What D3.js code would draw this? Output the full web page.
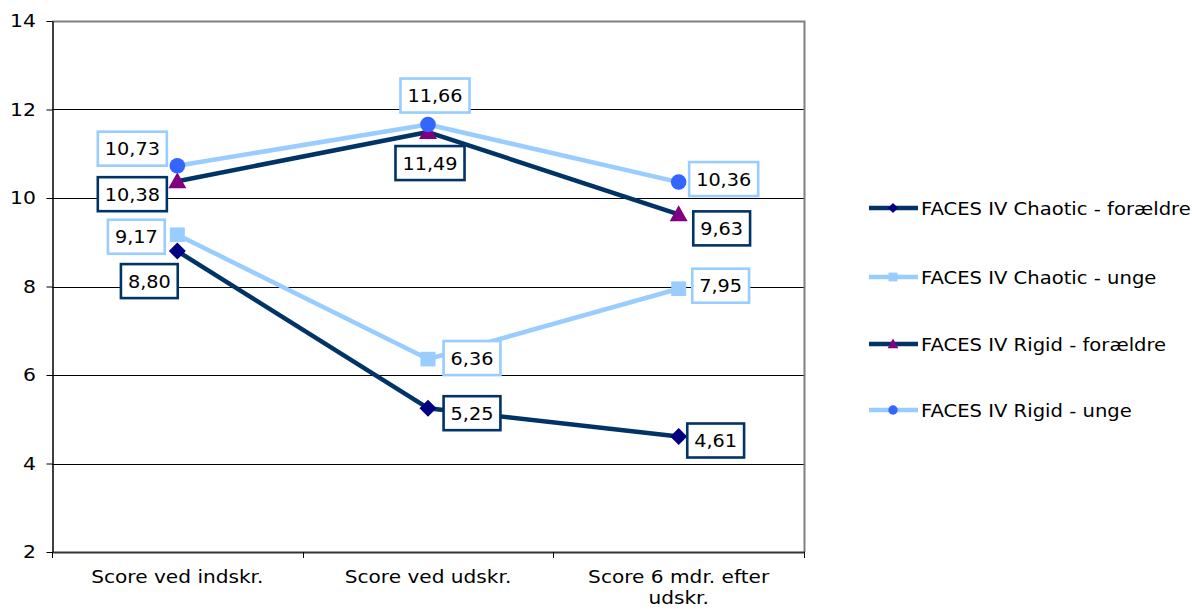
<!DOCTYPE html>
<html>
<head>
<meta charset="utf-8">
<script src="https://cdn.jsdelivr.net/npm/d3@7"></script>
<style>
  html, body { margin: 0; padding: 0; background: #fff; }
  svg { display: block; font-family: "DejaVu Sans", Verdana, sans-serif; }
</style>
</head>
<body>
<svg id="chart" width="1192" height="609"></svg>
<script>
// ---- data ----
const categories = ["Score ved indskr.", "Score ved udskr.", "Score 6 mdr. efter udskr."];
const seriesNames = [
  "FACES IV Chaotic - forældre",
  "FACES IV Chaotic - unge",
  "FACES IV Rigid - forældre",
  "FACES IV Rigid - unge"
];
const chaoticForaeldre = [8.80, 5.25, 4.61];
const chaoticUnge = [9.17, 6.36, 7.95];
const rigidForaeldre = [10.38, 11.49, 9.63];
const rigidUnge = [10.73, 11.66, 10.36];
const yTicks = [2, 4, 6, 8, 10, 12, 14];

// ---- styling / layout ----
const navy = "#003366", lightBlue = "#99CCFF";
const seriesStyle = [
  { line: navy,      marker: "diamond",  fill: "#000080" },
  { line: lightBlue, marker: "square",   fill: "#99CCFF" },
  { line: navy,      marker: "triangle", fill: "#800080" },
  { line: lightBlue, marker: "circle",   fill: "#3366FF" }
];
// data label box centre, relative to its point (px)
const labelNudge = [
  [[-28, 30], [44, 5], [37, 4]],
  [[-41, 2], [44, -1], [42, -3]],
  [[-45, 13], [2, 31], [43, 14]],
  [[-45, -17], [7, -29], [45, -3]]
];
const seriesValues = [chaoticForaeldre, chaoticUnge, rigidForaeldre, rigidUnge];

const SX = 1.1;            // horizontal text stretch
const fmt = v => d3.format(".2f")(v).replace(".", ",");

const svg = d3.select("#chart");
const plot = { left: 52, right: 804, top: 21, bottom: 552 };

const x = d3.scalePoint().domain(categories).range([plot.left, plot.right]).padding(0.5);
const xBand = d3.scaleBand().domain(categories).range([plot.left, plot.right]);
const y = d3.scaleLinear().domain([2, 14]).range([plot.bottom, plot.top]);

// gridlines
svg.append("g").selectAll("line")
  .data(yTicks.filter(t => t > 2 && t < 14))
  .join("line")
  .attr("x1", plot.left).attr("x2", plot.right)
  .attr("y1", d => Math.round(y(d)) + 0.5).attr("y2", d => Math.round(y(d)) + 0.5)
  .attr("stroke", "#000").attr("stroke-width", 1);

// plot-area frame (top/right)
svg.append("path")
  .attr("d", `M${plot.left},${plot.top + 0.5}H${plot.right + 0.5}V${plot.bottom}`)
  .attr("fill", "none").attr("stroke", "#808080").attr("stroke-width", 2);

// y axis
const yAxis = svg.append("g")
  .attr("transform", `translate(${plot.left + 0.5},0)`)
  .call(d3.axisLeft(y).tickValues(yTicks).tickSize(6).tickSizeOuter(0).tickPadding(9)
        .tickFormat(d3.format("d")));
yAxis.select(".domain").attr("stroke", "#000").attr("stroke-width", 1.5);
yAxis.selectAll(".tick line").attr("stroke", "#000");
yAxis.selectAll(".tick text")
  .attr("font-size", 18.5).attr("fill", "#000")
  .attr("font-family", "DejaVu Sans, Verdana, sans-serif")
  .attr("transform", `scale(${SX},1)`);

// x axis line + boundary ticks
svg.append("line")
  .attr("x1", plot.left).attr("x2", plot.right + 1)
  .attr("y1", plot.bottom + 0.5).attr("y2", plot.bottom + 0.5)
  .attr("stroke", "#333").attr("stroke-width", 2);
const edges = categories.map(c => xBand(c)).concat([xBand.range()[1]]);
svg.append("g").selectAll("line").data(edges).join("line")
  .attr("x1", d => Math.round(d) + 0.5).attr("x2", d => Math.round(d) + 0.5)
  .attr("y1", plot.bottom).attr("y2", plot.bottom + 6)
  .attr("stroke", "#000");

// category labels (wrapped)
function stretchedText(g, tx, ty, str, size, anchor, sx) {
  return g.append("text")
    .attr("transform", `translate(${tx},${ty}) scale(${sx || SX},1)`)
    .attr("text-anchor", anchor)
    .attr("font-size", size)
    .attr("fill", "#000")
    .text(str);
}
const catSX = 1.15;
const xLabels = svg.append("g");
categories.forEach(c => {
  const t = stretchedText(xLabels, x(c), 583, "", 17.5, "middle", catSX);
  const words = c.split(" ");
  let line = [], lines = [];
  const probe = t.append("tspan");
  words.forEach(w => {
    line.push(w);
    probe.text(line.join(" "));
    if (probe.node().getComputedTextLength() * catSX > 230 && line.length > 1) {
      line.pop();
      lines.push(line.join(" "));
      line = [w];
    }
  });
  lines.push(line.join(" "));
  probe.remove();
  lines.forEach((l, i) => {
    t.append("tspan").attr("x", 0).attr("dy", i === 0 ? 0 : 21).text(l);
  });
});

// marker shapes
function markerPath(type, s) {
  switch (type) {
    case "diamond": return `M0,${-8.5*s}L${8.5*s},0L0,${8.5*s}L${-8.5*s},0Z`;
    case "square":  return `M${-7.5*s},${-7.3*s}h${15*s}v${14.6*s}h${-15*s}Z`;
    case "triangle":return `M0,${-9*s}L${9*s},${7*s}L${-9*s},${7*s}Z`;
    default: return null;
  }
}
function drawMarker(g, type, fill, cx, cy, s) {
  if (type === "circle") {
    g.append("circle").attr("cx", cx).attr("cy", cy).attr("r", 7.8 * s).attr("fill", fill);
  } else {
    g.append("path").attr("transform", `translate(${cx},${cy})`)
      .attr("d", markerPath(type, s)).attr("fill", fill);
  }
}

// series lines and markers
const lineGen = d3.line().x((d, i) => x(categories[i])).y(d => y(d));
const seriesG = svg.append("g");
seriesValues.forEach((vals, si) => {
  const st = seriesStyle[si];
  const g = seriesG.append("g");
  g.append("path").datum(vals).attr("d", lineGen)
    .attr("fill", "none").attr("stroke", st.line).attr("stroke-width", 4.5)
    .attr("stroke-linejoin", "round");
  vals.forEach((v, i) => drawMarker(g, st.marker, st.fill, x(categories[i]), y(v), 1));
});

// data labels in boxes
const labelsG = svg.append("g");
seriesValues.forEach((vals, si) => {
  const st = seriesStyle[si];
  vals.forEach((v, i) => {
    const cx = x(categories[i]) + labelNudge[si][i][0];
    const cy = y(v) + labelNudge[si][i][1];
    const g = labelsG.append("g");
    const rect = g.append("rect");
    const t = stretchedText(g, cx, cy + 6.5, fmt(v), 17.5, "middle");
    const w = t.node().getComputedTextLength() * SX + 14;
    const h = 34;
    rect.attr("x", cx - w / 2).attr("y", cy - h / 2).attr("width", w).attr("height", h)
      .attr("fill", "#fff").attr("stroke", st.line).attr("stroke-width", 2.6);
  });
});

// legend
const legend = svg.append("g");
const legendY = [208, 277, 344, 410];
seriesNames.forEach((name, si) => {
  const st = seriesStyle[si];
  const ly = legendY[si];
  legend.append("line").attr("x1", 869).attr("x2", 918).attr("y1", ly).attr("y2", ly)
    .attr("stroke", st.line).attr("stroke-width", 4.5);
  drawMarker(legend, st.marker, st.fill, 893, ly, 0.6);
  stretchedText(legend, 921, ly + 6.5, name, 17.5, "start", 1.12);
});
</script>
</body>
</html>
